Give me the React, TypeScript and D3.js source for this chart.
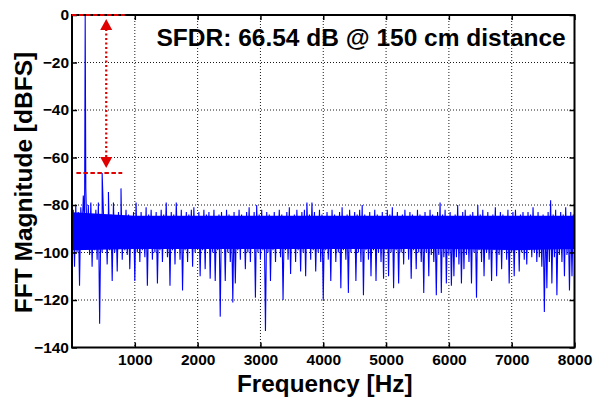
import { useRef, useEffect } from 'react';
import * as d3 from 'd3';

const WIDTH = 602;
const HEIGHT = 406;

// FFT bins 20 Hz apart. "lo" bins sit at 0, 40, 80 ... Hz, "hi" bins at 20, 60, 100 ... Hz
const binStepHz = 20;

const loBinsDb = [
  -101, -106, -100, -114, -92, -88, -95, -101, -106, -99, -103, -130, -100, -98, -105, -99, -112, -100, -108, -98,
  -103, -99, -101, -107, -98, -112, -100, -104, -99, -102, -114, -98, -103, -100, -113, -99, -104, -98, -102, -114,
  -99, -105, -98, -103, -116, -99, -104, -98, -106, -100, -98, -110, -99, -107, -98, -111, -100, -112, -99, -127,
  -98, -112, -100, -104, -121, -113, -99, -103, -98, -107, -100, -104, -98, -119, -100, -103, -99, -133, -100, -112,
  -99, -104, -98, -102, -120, -99, -103, -109, -98, -104, -99, -108, -100, -110, -98, -103, -99, -108, -100, -104,
  -120, -99, -103, -112, -98, -104, -100, -115, -99, -103, -117, -100, -98, -112, -100, -104, -118, -99, -103, -110,
  -99, -112, -100, -104, -111, -98, -110, -100, -115, -99, -113, -100, -105, -98, -103, -111, -99, -107, -100, -104,
  -117, -100, -110, -101, -104, -118, -101, -117, -102, -113, -101, -114, -110, -102, -105, -113, -107, -101, -104, -113,
  -100, -119, -99, -104, -110, -100, -103, -112, -99, -110, -101, -107, -99, -103, -113, -100, -110, -99, -108, -100,
  -103, -105, -99, -102, -100, -104, -102, -106, -125, -115, -104, -113, -102, -118, -101, -104, -110, -101, -116, -110,
];

const hiBinsDb = [
  -82, -80, -83, -81, -76, -73, -80, -79, -84, -82, -79, -85, -83, -86, -82, -84, -79, -85, -83, -84,
  -85, -82, -84, -86, -83, -79, -85, -83, -86, -81, -84, -82, -85, -83, -86, -82, -84, -79, -85, -83,
  -84, -79, -85, -82, -86, -83, -84, -82, -81, -85, -83, -86, -82, -84, -83, -85, -82, -86, -84, -83,
  -85, -82, -84, -86, -83, -85, -82, -84, -86, -83, -81, -85, -83, -80, -84, -82, -85, -83, -84, -86,
  -83, -85, -82, -84, -86, -83, -81, -85, -84, -82, -85, -83, -82, -79, -84, -79, -83, -85, -82, -84,
  -86, -83, -85, -82, -84, -86, -83, -81, -85, -84, -82, -85, -83, -84, -82, -80, -84, -86, -83, -85,
  -82, -84, -86, -83, -85, -82, -84, -81, -85, -83, -86, -84, -82, -85, -83, -84, -86, -82, -84, -85,
  -83, -85, -82, -84, -86, -83, -79, -84, -82, -85, -83, -86, -84, -80, -85, -83, -82, -85, -84, -83,
  -85, -80, -84, -82, -85, -83, -86, -84, -81, -85, -83, -84, -86, -82, -85, -83, -82, -85, -84, -83,
  -85, -83, -84, -81, -85, -83, -86, -84, -85, -83, -78, -84, -82, -85, -83, -84, -81, -85, -83, -84,
];

// fundamental and harmonic spurs [Hz, dBFS]
const toneHz = [210, 480, 580, 780];
const toneDb = [0, -66.5, -74.5, -73];

// solid core of the noise floor
const coreHz = [0, 1000, 2000, 3000, 4000, 5000, 6000, 7000, 8000];
const coreTopDb = [-83, -84.5, -84.5, -84.5, -84.5, -84.5, -84.5, -84.5, -84.5];
const coreBottomDb = [-99, -98.5, -98.5, -98.5, -98.5, -98.5, -98.5, -99, -98.5];

const xTicks = [1000, 2000, 3000, 4000, 5000, 6000, 7000, 8000];
const yTicks = [0, -20, -40, -60, -80, -100, -120, -140];

const sfdrDb = -66.54;
const topMarkHz = [0, 840];
const spurMarkHz = [70, 800];
const arrowHz = 545;
const title = 'SFDR: 66.54 dB @ 150 cm distance';

const FONT = '"Liberation Sans", Arial, Helvetica, sans-serif';
const RED = '#e00000';
const BLUE = '#0000ff';

export default function App() {
  const svgRef = useRef<SVGSVGElement>(null);

  useEffect(() => {
    if (!svgRef.current) return;
    const svg = d3.select(svgRef.current);
    svg.selectAll('*').remove();

    const margin = { top: 15, right: 27.5, bottom: 58.5, left: 72 };
    const w = WIDTH - margin.left - margin.right;
    const h = HEIGHT - margin.top - margin.bottom;

    svg.append('rect').attr('width', WIDTH).attr('height', HEIGHT).attr('fill', '#fff');

    const g = svg.append('g').attr('transform', `translate(${margin.left},${margin.top})`);

    const x = d3.scaleLinear().domain([0, 8000]).range([0, w]);
    const y = d3.scaleLinear().domain([-140, 0]).range([h, 0]);

    svg.append('defs').append('clipPath').attr('id', 'plot-clip')
      .append('rect').attr('width', w).attr('height', h);

    // Grid
    g.selectAll('.vgrid')
      .data(xTicks.filter((d) => d < 8000))
      .join('line')
      .attr('x1', (d) => x(d)).attr('x2', (d) => x(d))
      .attr('y1', 0).attr('y2', h)
      .attr('stroke', '#000').attr('stroke-width', 0.9)
      .attr('stroke-dasharray', '1,2');
    g.selectAll('.hgrid')
      .data(yTicks.filter((d) => d < 0 && d > -140))
      .join('line')
      .attr('x1', 0).attr('x2', w)
      .attr('y1', (d) => y(d)).attr('y2', (d) => y(d))
      .attr('stroke', '#000').attr('stroke-width', 0.9)
      .attr('stroke-dasharray', '1,2');

    // Spectrum
    type Pt = { f: number; db: number };
    const pts: Pt[] = [];
    loBinsDb.forEach((db, i) => {
      pts.push({ f: i * 2 * binStepHz, db });
      pts.push({ f: (i * 2 + 1) * binStepHz, db: hiBinsDb[i] });
    });
    toneHz.forEach((f, i) => pts.push({ f, db: toneDb[i] }));
    pts.sort((a, b) => a.f - b.f);

    const plot = g.append('g').attr('clip-path', 'url(#plot-clip)');

    const core = d3.area<number>()
      .x((_, i) => x(coreHz[i]))
      .y0((_, i) => y(coreBottomDb[i]))
      .y1((d) => y(d));
    plot.append('path')
      .datum(coreTopDb)
      .attr('fill', BLUE)
      .attr('d', core);

    const line = d3.line<Pt>()
      .x((d) => x(d.f))
      .y((d) => y(d.db));
    plot.append('path')
      .datum(pts)
      .attr('fill', 'none')
      .attr('stroke', BLUE)
      .attr('stroke-width', 1.1)
      .attr('d', line);

    // Axes (MATLAB style, ticks inward, box on)
    const styleAxis = (sel: d3.Selection<SVGGElement, unknown, null, undefined>) => {
      sel.select('.domain').remove();
      sel.selectAll('line').attr('stroke', '#000').attr('stroke-width', 1.5);
      sel.selectAll('text')
        .attr('font-family', FONT)
        .attr('font-weight', 'bold')
        .attr('font-size', 15.5)
        .attr('fill', '#000');
    };

    g.append('g')
      .attr('transform', `translate(0,${h})`)
      .call(d3.axisBottom(x).tickValues(xTicks).tickSizeInner(-5).tickSizeOuter(0).tickPadding(6).tickFormat(d3.format('d')))
      .call(styleAxis);
    g.append('g')
      .call(d3.axisTop(x).tickValues(xTicks).tickSizeInner(-5).tickSizeOuter(0).tickFormat(() => ''))
      .call(styleAxis);
    g.append('g')
      .call(d3.axisLeft(y).tickValues(yTicks).tickSizeInner(-5).tickSizeOuter(0).tickPadding(3).tickFormat(d3.format('d')))
      .call(styleAxis);
    g.append('g')
      .attr('transform', `translate(${w},0)`)
      .call(d3.axisRight(y).tickValues(yTicks).tickSizeInner(-5).tickSizeOuter(0).tickFormat(() => ''))
      .call(styleAxis);

    g.append('rect')
      .attr('width', w).attr('height', h)
      .attr('fill', 'none').attr('stroke', '#000').attr('stroke-width', 2);

    // SFDR annotation
    g.append('line')
      .attr('x1', x(topMarkHz[0])).attr('x2', x(topMarkHz[1]))
      .attr('y1', y(0)).attr('y2', y(0))
      .attr('stroke', RED).attr('stroke-width', 2).attr('stroke-dasharray', '4.5,2.5');
    g.append('line')
      .attr('x1', x(spurMarkHz[0])).attr('x2', x(spurMarkHz[1]))
      .attr('y1', y(sfdrDb)).attr('y2', y(sfdrDb))
      .attr('stroke', RED).attr('stroke-width', 2).attr('stroke-dasharray', '4.5,2.5');

    const ax = x(arrowHz);
    const tipTop = y(0) + 4;
    const tipBot = y(sfdrDb) - 5;
    g.append('line')
      .attr('x1', ax).attr('x2', ax)
      .attr('y1', tipTop + 10).attr('y2', tipBot - 10)
      .attr('stroke', RED).attr('stroke-width', 2.2).attr('stroke-dasharray', '2,2.5');
    g.append('path')
      .attr('d', `M${ax},${tipTop} L${ax - 6},${tipTop + 11} L${ax + 6},${tipTop + 11} Z`)
      .attr('fill', RED);
    g.append('path')
      .attr('d', `M${ax},${tipBot} L${ax - 6},${tipBot - 11} L${ax + 6},${tipBot - 11} Z`)
      .attr('fill', RED);

    // Texts
    svg.append('text')
      .attr('x', 156.5).attr('y', 46)
      .attr('font-family', FONT).attr('font-weight', 'bold').attr('font-size', 24.5)
      .attr('fill', '#000')
      .text(title);

    svg.append('text')
      .attr('x', margin.left + w / 2 + 1.5).attr('y', 391.5)
      .attr('text-anchor', 'middle')
      .attr('font-family', FONT).attr('font-weight', 'bold').attr('font-size', 24.3)
      .attr('fill', '#000')
      .text('Frequency [Hz]');

    svg.append('text')
      .attr('transform', `translate(32,${182.5}) rotate(-90)`)
      .attr('text-anchor', 'middle')
      .attr('font-family', FONT).attr('font-weight', 'bold').attr('font-size', 24.5)
      .attr('fill', '#000')
      .text('FFT Magnitude [dBFS]');
  }, []);

  return (
    <svg
      ref={svgRef}
      width={WIDTH}
      height={HEIGHT}
      style={{ position: 'absolute', left: 0, top: 0, display: 'block' }}
    />
  );
}
